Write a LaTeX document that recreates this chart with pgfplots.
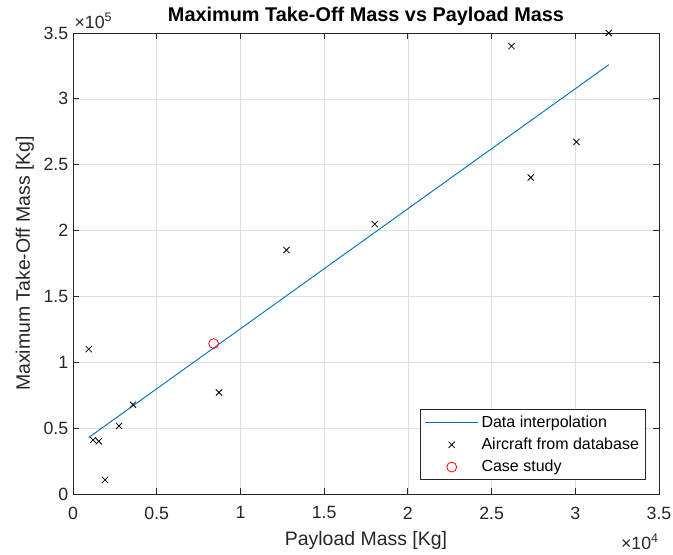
\documentclass[border=0pt]{standalone}
\usepackage{fontspec}
\setmainfont{Liberation Sans}
\usepackage{pgfplots}
\pgfplotsset{compat=1.18}

\definecolor{mblue}{rgb}{0,0.447,0.741}
\definecolor{maxis}{rgb}{0.15,0.15,0.15}

\pgfplotsset{
  longline/.style={legend image code/.code={\draw[##1] (0pt,0pt) -- (40pt,0pt);}},
  longmark/.style={legend image code/.code={\draw[##1,mark repeat=2,mark phase=2] plot coordinates {(0pt,0pt) (20pt,0pt) (40pt,0pt)};}},
}

% aircraft database: payload [kg], MTOM [kg]
\begin{document}
\begin{tikzpicture}
\begin{axis}[
  scale only axis,
  width=439.5pt, height=345.75pt,
  xmin=0, xmax=35000, ymin=0, ymax=350000,
  xtick={0,5000,...,35000}, ytick={0,50000,...,350000},
  scaled x ticks=base 10:-4, scaled y ticks=base 10:-5,
  xtick scale label code/.code={×10\textsuperscript{4}},
  ytick scale label code/.code={×10\textsuperscript{5}},
  every x tick scale label/.style={at={(axis description cs:1,0)}, anchor=north east, inner sep=0pt, yshift=-24pt},
  every y tick scale label/.style={at={(axis description cs:0,1)}, anchor=south west, inner sep=0pt, xshift=1pt, yshift=3pt},
  /pgf/number format/assume math mode=true,
  /pgf/number format/.cd, fixed, precision=1, /pgfplots/.cd,
  tick label style={font=\fontsize{13.3}{16}\selectfont, text=maxis},
  xticklabel style={yshift=-6pt},
  grid=major, major grid style={draw=black!13, line width=0.5pt},
  tick align=inside, xtick pos=both, ytick pos=both,
  major tick length=4.5pt,
  every tick/.style={maxis, line width=0.6pt},
  axis line style={maxis, line width=0.6pt},
  title={\textbf{Maximum Take-Off Mass vs Payload Mass}},
  every axis title shift=0pt,
  title style={at={(axis description cs:0.5,1.035)}, anchor=center, yshift=0pt, font=\fontsize{14.9}{17}\selectfont},
  xlabel={Payload Mass [Kg]},
  ylabel={Maximum Take-Off Mass [Kg]},
  xlabel style={at={(axis description cs:0.5,-0.0998)}, anchor=center, font=\fontsize{14.6}{17}\selectfont, text=maxis},
  ylabel style={at={(axis description cs:-0.082,0.5)}, anchor=center, font=\fontsize{14.6}{17}\selectfont, text=maxis},
  legend style={at={(axis description cs:1,0)}, anchor=south east, xshift=-9.75pt, yshift=10.3pt,
    font=\fontsize{12}{14}\selectfont, draw=maxis, line width=0.6pt, inner xsep=3pt, inner ysep=2.5pt, row sep=2.5pt},
  legend cell align=left,
]
\addplot[mblue, line width=0.7pt, longline]
  coordinates {(940,42900) (32000,325900)};
\addlegendentry{Data interpolation}

\addplot[only marks, mark=x, mark size=3.3pt, black, line width=0.6pt, longmark]
  coordinates {
    (940,110000) (1200,41000) (1540,40000) (1910,10700)
    (2750,51700) (3580,67800) (8720,77100) (12750,185200)
    (18020,204900) (26190,340000) (32000,350000) (30070,267300)
    (27340,240300)
  };
\addlegendentry{Aircraft from database}

\addplot[only marks, mark=o, mark size=3.7pt, red, line width=0.6pt, longmark]
  coordinates {(8400,114200)};
\addlegendentry{Case study}

\coordinate (bl) at (rel axis cs:0,0);
\coordinate (tr) at (rel axis cs:1,1);
\end{axis}
\pgfresetboundingbox
\path[use as bounding box] ([shift={(-54.75pt,-45.75pt)}]bl) rectangle ([shift={(10.5pt,24.75pt)}]tr);
\end{tikzpicture}
\end{document}
